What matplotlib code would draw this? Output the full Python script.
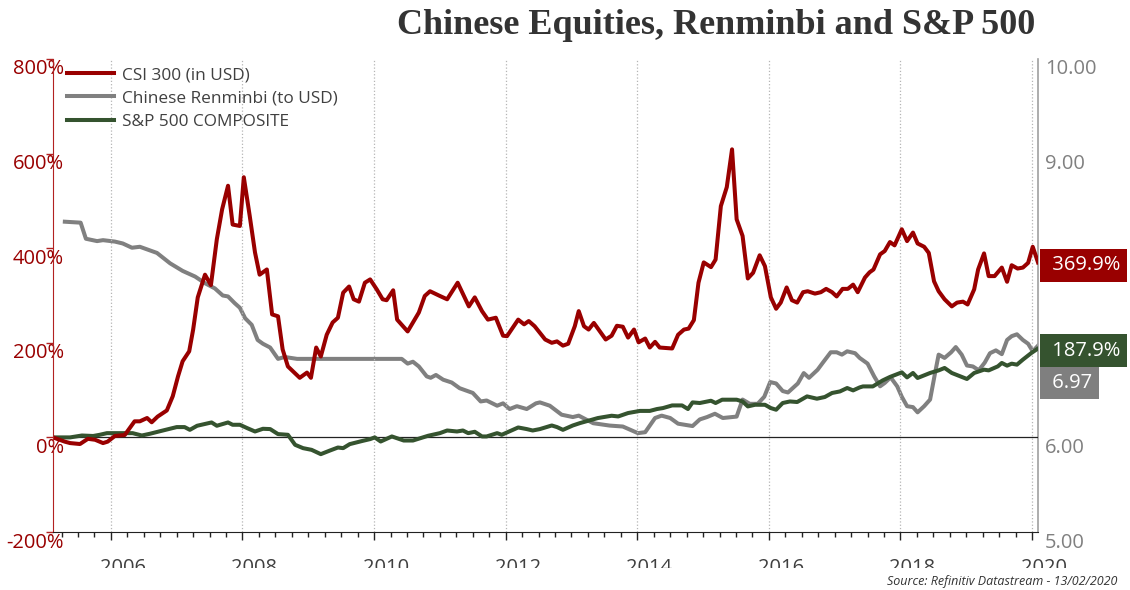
import matplotlib.pyplot as plt
import matplotlib.transforms as mtransforms
from matplotlib.ticker import MultipleLocator, FuncFormatter
from matplotlib.patches import Rectangle

plt.rcParams['font.family'] = ['Open Sans', 'DejaVu Sans']

# CSI 300 (in USD), % change since start
csi_t = [2005.12, 2005.30, 2005.38, 2005.53, 2005.65, 2005.76, 2005.88, 2005.95, 2006.06, 2006.21,
         2006.36, 2006.44, 2006.55, 2006.62, 2006.71, 2006.85, 2006.94, 2007.02, 2007.09, 2007.19,
         2007.25, 2007.32, 2007.43, 2007.52, 2007.61, 2007.69, 2007.78, 2007.85, 2007.96, 2008.02,
         2008.11, 2008.19, 2008.26, 2008.37, 2008.45, 2008.54, 2008.61, 2008.69, 2008.87, 2008.98,
         2009.04, 2009.12, 2009.19, 2009.28, 2009.37, 2009.45, 2009.53, 2009.62, 2009.69, 2009.77,
         2009.86, 2009.94, 2010.04, 2010.13, 2010.19, 2010.29, 2010.35, 2010.51, 2010.68, 2010.77,
         2010.85, 2011.00, 2011.11, 2011.27, 2011.44, 2011.53, 2011.64, 2011.73, 2011.85, 2011.96,
         2012.02, 2012.19, 2012.28, 2012.35, 2012.44, 2012.60, 2012.70, 2012.78, 2012.87, 2012.95,
         2013.05, 2013.11, 2013.19, 2013.26, 2013.34, 2013.52, 2013.61, 2013.69, 2013.78, 2013.86,
         2013.95, 2014.02, 2014.12, 2014.19, 2014.27, 2014.34, 2014.53, 2014.62, 2014.71, 2014.78,
         2014.86, 2014.93, 2015.01, 2015.12, 2015.19, 2015.27, 2015.36, 2015.44, 2015.51, 2015.60,
         2015.68, 2015.76, 2015.86, 2015.94, 2016.03, 2016.11, 2016.18, 2016.27, 2016.35, 2016.43,
         2016.52, 2016.59, 2016.70, 2016.79, 2016.87, 2016.96, 2017.03, 2017.12, 2017.20, 2017.28,
         2017.35, 2017.46, 2017.53, 2017.59, 2017.69, 2017.76, 2017.84, 2017.91, 2018.02, 2018.10,
         2018.19, 2018.26, 2018.36, 2018.43, 2018.51, 2018.58, 2018.67, 2018.78, 2018.86, 2018.95,
         2019.02, 2019.12, 2019.18, 2019.27, 2019.34, 2019.43, 2019.54, 2019.62, 2019.69, 2019.78,
         2019.86, 2019.94, 2020.01, 2020.09]
csi = [0, -9, -12, -14, -3, -5, -12, -9, 3, 5,
       34, 34, 41, 32, 44, 57, 87, 129, 161, 182,
       228, 296, 344, 322, 419, 482, 532, 450, 447, 550,
       468, 391, 344, 355, 260, 256, 186, 150, 126, 137,
       126, 190, 171, 217, 243, 253, 306, 319, 292, 287,
       327, 334, 313, 292, 290, 311, 249, 224, 264, 299,
       309, 299, 292, 327, 277, 296, 267, 249, 253, 215,
       214, 249, 239, 246, 235, 207, 200, 203, 194, 198,
       235, 267, 235, 228, 242, 207, 215, 236, 234, 211,
       228, 201, 209, 190, 202, 190, 188, 217, 228, 230,
       248, 327, 370, 360, 376, 489, 529, 609, 461, 426,
       336, 348, 385, 362, 296, 272, 285, 317, 290, 285,
       307, 309, 304, 307, 314, 307, 298, 314, 314, 323,
       307, 338, 349, 355, 387, 394, 413, 406, 440, 415,
       433, 410, 403, 390, 330, 309, 292, 277, 285, 287,
       281, 313, 355, 389, 341, 341, 359, 329, 364, 357,
       359, 369, 403, 369.9]

# Chinese Renminbi (to USD), right axis
cny_t = [2005.30, 2005.54, 2005.62, 2005.79, 2005.88, 2006.06, 2006.18, 2006.32, 2006.44, 2006.70,
         2006.90, 2007.09, 2007.28, 2007.43, 2007.58, 2007.70, 2007.78, 2007.88, 2007.96, 2008.04,
         2008.14, 2008.23, 2008.31, 2008.42, 2008.54, 2008.64, 2008.83, 2010.42, 2010.51, 2010.59,
         2010.68, 2010.80, 2010.86, 2010.94, 2011.05, 2011.18, 2011.30, 2011.50, 2011.62, 2011.71,
         2011.87, 2011.96, 2012.06, 2012.17, 2012.32, 2012.46, 2012.52, 2012.67, 2012.85, 2013.02,
         2013.11, 2013.33, 2013.58, 2013.78, 2014.01, 2014.12, 2014.27, 2014.37, 2014.50, 2014.62,
         2014.84, 2014.95, 2015.06, 2015.18, 2015.30, 2015.51, 2015.60, 2015.71, 2015.83, 2015.93,
         2016.02, 2016.11, 2016.21, 2016.29, 2016.44, 2016.53, 2016.61, 2016.74, 2016.82, 2016.94,
         2017.03, 2017.11, 2017.19, 2017.31, 2017.38, 2017.50, 2017.60, 2017.69, 2017.76, 2017.85,
         2017.95, 2018.02, 2018.10, 2018.19, 2018.26, 2018.36, 2018.45, 2018.52, 2018.58, 2018.67,
         2018.77, 2018.84, 2018.93, 2019.01, 2019.10, 2019.19, 2019.28, 2019.36, 2019.45, 2019.54,
         2019.62, 2019.69, 2019.77, 2019.86, 2019.94, 2020.01, 2020.09]
cny = [8.28, 8.27, 8.10, 8.075, 8.085, 8.07, 8.05, 8.005, 8.015, 7.95,
       7.84, 7.76, 7.70, 7.63, 7.575, 7.50, 7.49, 7.42, 7.37, 7.26,
       7.19, 7.03, 6.99, 6.95, 6.83, 6.85, 6.83, 6.83, 6.78, 6.80,
       6.75, 6.645, 6.63, 6.66, 6.61, 6.58, 6.52, 6.47, 6.38, 6.39,
       6.335, 6.36, 6.30, 6.33, 6.30, 6.36, 6.37, 6.335, 6.24, 6.215,
       6.23, 6.15, 6.125, 6.115, 6.045, 6.055, 6.205, 6.23, 6.205, 6.145,
       6.12, 6.19, 6.215, 6.25, 6.205, 6.22, 6.40, 6.355, 6.355, 6.43,
       6.585, 6.57, 6.49, 6.475, 6.57, 6.68, 6.63, 6.715, 6.79, 6.90,
       6.90, 6.875, 6.91, 6.89, 6.84, 6.78, 6.645, 6.54, 6.575, 6.635,
       6.54, 6.43, 6.33, 6.32, 6.265, 6.33, 6.40, 6.66, 6.875, 6.84,
       6.90, 6.955, 6.875, 6.76, 6.75, 6.71, 6.79, 6.89, 6.92, 6.88,
       7.03, 7.07, 7.09, 7.03, 6.99, 6.91, 6.97]

# S&P 500 composite, % change since start
spx_t = [2005.12, 2005.38, 2005.56, 2005.73, 2005.83, 2005.94, 2006.09, 2006.33, 2006.47, 2006.59,
         2006.79, 2007.00, 2007.12, 2007.20, 2007.31, 2007.53, 2007.61, 2007.78, 2007.85, 2007.96,
         2008.07, 2008.19, 2008.31, 2008.42, 2008.54, 2008.69, 2008.80, 2008.92, 2009.05, 2009.19,
         2009.33, 2009.45, 2009.53, 2009.63, 2009.83, 2009.94, 2010.01, 2010.10, 2010.27, 2010.45,
         2010.59, 2010.82, 2011.00, 2011.11, 2011.26, 2011.35, 2011.43, 2011.53, 2011.64, 2011.71,
         2011.87, 2011.94, 2012.19, 2012.32, 2012.41, 2012.52, 2012.70, 2012.78, 2012.87, 2013.02,
         2013.13, 2013.25, 2013.40, 2013.61, 2013.71, 2013.86, 2014.04, 2014.19, 2014.30, 2014.39,
         2014.53, 2014.68, 2014.77, 2014.84, 2014.95, 2015.12, 2015.19, 2015.29, 2015.51, 2015.60,
         2015.68, 2015.79, 2015.94, 2016.03, 2016.11, 2016.21, 2016.32, 2016.43, 2016.58, 2016.73,
         2016.85, 2016.96, 2017.08, 2017.19, 2017.28, 2017.38, 2017.43, 2017.58, 2017.73, 2017.84,
         2018.02, 2018.10, 2018.19, 2018.26, 2018.45, 2018.58, 2018.67, 2018.78, 2019.01, 2019.12,
         2019.27, 2019.34, 2019.48, 2019.54, 2019.62, 2019.69, 2019.77, 2019.86, 2019.99, 2020.09]
spx = [0, 0, 4, 3, 5.5, 9, 9, 9, 4, 7.6,
       14.6, 21.8, 21.8, 16, 24.6, 31.6, 24.6, 31.6, 26.7, 26.7,
       19.7, 12.5, 18.2, 17.6, 7, 5.5, -15.7, -22.7, -26.3, -35.4,
       -27.7, -21.4, -22.7, -14.2, -7.2, -3.6, 0, -8.7, 2, -6.6,
       -6.6, 3.4, 9, 14.6, 12.5, 14.6, 9, 11.9, 2, 2,
       9, 5.5, 21, 17.6, 14.6, 17.6, 25.2, 21.8, 16, 25.2,
       30.3, 35, 40.9, 45.8, 44.3, 51.5, 56, 56, 60, 62,
       67.6, 67.6, 60, 74, 72.7, 77.5, 72.7, 79.7, 79.7, 76,
       65.5, 69, 69, 62, 58.5, 72.7, 76, 74.8, 86.7, 81.8,
       85.4, 93.9, 97.2, 104.4, 99.4, 105.7, 107.8, 107.8, 120.5, 127.8,
       137.5, 126.9, 136.2, 125.6, 136.2, 141.7, 146.8, 136.2, 123.5, 136.2,
       143.2, 141.7, 150.2, 157.4, 151.7, 155.9, 153.8, 164.4, 178.6, 187.9]

pct_ticks = [-200, 0, 200, 400, 600, 800]
rate_ticks = [5, 6, 7, 8, 9, 10]
year_ticks = [2006, 2008, 2010, 2012, 2014, 2016, 2018, 2020]

red = '#990000'
grey = '#808080'
green = '#35532F'
txt = '#404040'

fig = plt.figure(figsize=(11.3, 5.9), dpi=100)
ax = fig.add_axes([53 / 1130, 58 / 590, 985 / 1130, 473 / 590])
ax2 = ax.twinx()
ax.set_zorder(ax2.get_zorder() + 1)
ax.patch.set_visible(False)

ax2.plot(cny_t, cny, color=grey, lw=2.9, solid_joinstyle='round', label='Chinese Renminbi (to USD)')
ax.plot(spx_t, spx, color=green, lw=2.9, solid_joinstyle='round', label='S&P 500 COMPOSITE')
ax.plot(csi_t, csi, color=red, lw=2.9, solid_joinstyle='round', label='CSI 300 (in USD)')
ax.axhline(0, color='#222222', lw=0.9, zorder=1)

ax.set_xlim(2005.12, 2020.09)
ax.set_ylim(-200, 800)
ax2.set_ylim(5, 10)

# x axis
ax.set_xticks(year_ticks)
ax.xaxis.set_minor_locator(MultipleLocator(0.25))
ax.xaxis.grid(True, which='major', linestyle=':', color='#b5b5b5', lw=0.9)
ax.tick_params(axis='x', which='major', length=6, width=1, color='#222222',
               labelsize=14.5, labelcolor=txt, pad=13)
ax.tick_params(axis='x', which='minor', length=3.5, width=1, color='#222222')
xoff = mtransforms.ScaledTranslation(12 / 100, 0, fig.dpi_scale_trans)
for lab in ax.get_xticklabels():
    lab.set_transform(lab.get_transform() + xoff)

# left axis
ax.set_yticks(pct_ticks)
ax.yaxis.set_major_formatter(FuncFormatter(lambda v, p: f'{v:.0f}%'))
ax.tick_params(axis='y', length=5, width=1, color='#B22222', labelsize=14.5,
               labelcolor=red, pad=-13)
yoff = mtransforms.ScaledTranslation(0, -8 / 100, fig.dpi_scale_trans)
for lab in ax.get_yticklabels():
    lab.set_transform(lab.get_transform() + yoff)

# right axis
ax2.set_yticks(rate_ticks)
ax2.yaxis.set_major_formatter(FuncFormatter(lambda v, p: f'{v:.2f}'))
ax2.tick_params(axis='y', length=0, labelsize=14.5, labelcolor=grey, pad=5)
for lab in ax2.get_yticklabels():
    lab.set_transform(lab.get_transform() + yoff)

for s in ['top', 'right']:
    ax.spines[s].set_visible(False)
ax.spines['left'].set_color('#B22222')
ax.spines['bottom'].set_color('#222222')
for s in ['top', 'left', 'bottom']:
    ax2.spines[s].set_visible(False)
ax2.spines['right'].set_color('#A0A0A0')
ax2.spines['right'].set_linewidth(1.2)

# legend
h1, l1 = ax.get_legend_handles_labels()
h2, l2 = ax2.get_legend_handles_labels()
handles = [h1[1], h2[0], h1[0]]
labels = [l1[1], l2[0], l1[0]]
leg = fig.legend(handles, labels, loc='upper left', bbox_to_anchor=(67 / 1130, 1 - 67 / 590),
                 frameon=False, fontsize=12.4, handlelength=2.75, handletextpad=0.42,
                 labelspacing=0.42, borderpad=0, borderaxespad=0)
for t in leg.get_texts():
    t.set_color(txt)

# end-of-series value boxes
box_kw = dict(xycoords=('axes fraction', 'data'), textcoords='offset pixels', ha='left',
              va='center', color='white', fontsize=14.5, annotation_clip=False)
ax.annotate(' 369.9%', xy=(1, csi[-1]), xytext=(9, -3),
            bbox=dict(boxstyle='square,pad=0.33', fc=red, ec='none'), **box_kw)
ax.annotate(' 187.9%', xy=(1, spx[-1]), xytext=(9, -2),
            bbox=dict(boxstyle='square,pad=0.33', fc=green, ec='none'), **box_kw)
ax2.annotate(' 6.97', xy=(1, cny[-1]), xytext=(9, -37),
             bbox=dict(boxstyle='square,pad=0.33', fc='#7F7F7F', ec='none'), **box_kw)

# bottom strip hides the lower half of the year labels, as in the source
fig.patches.append(Rectangle((0, 0), 1, 22 / 590, transform=fig.transFigure,
                             fc='white', ec='none', zorder=5))

fig.text(1035 / 1130, 1 - 25 / 590, 'Chinese Equities, Renminbi and S&P 500',
         ha='right', va='center', fontsize=26, fontweight='bold',
         family='Liberation Serif', color='#333333')
fig.text(1117 / 1130, 1 - 581 / 590, 'Source: Refinitiv Datastream - 13/02/2020',
         ha='right', va='center', fontsize=9, style='italic', color='#333333', zorder=6)

fig.savefig('out.png', dpi=100)
